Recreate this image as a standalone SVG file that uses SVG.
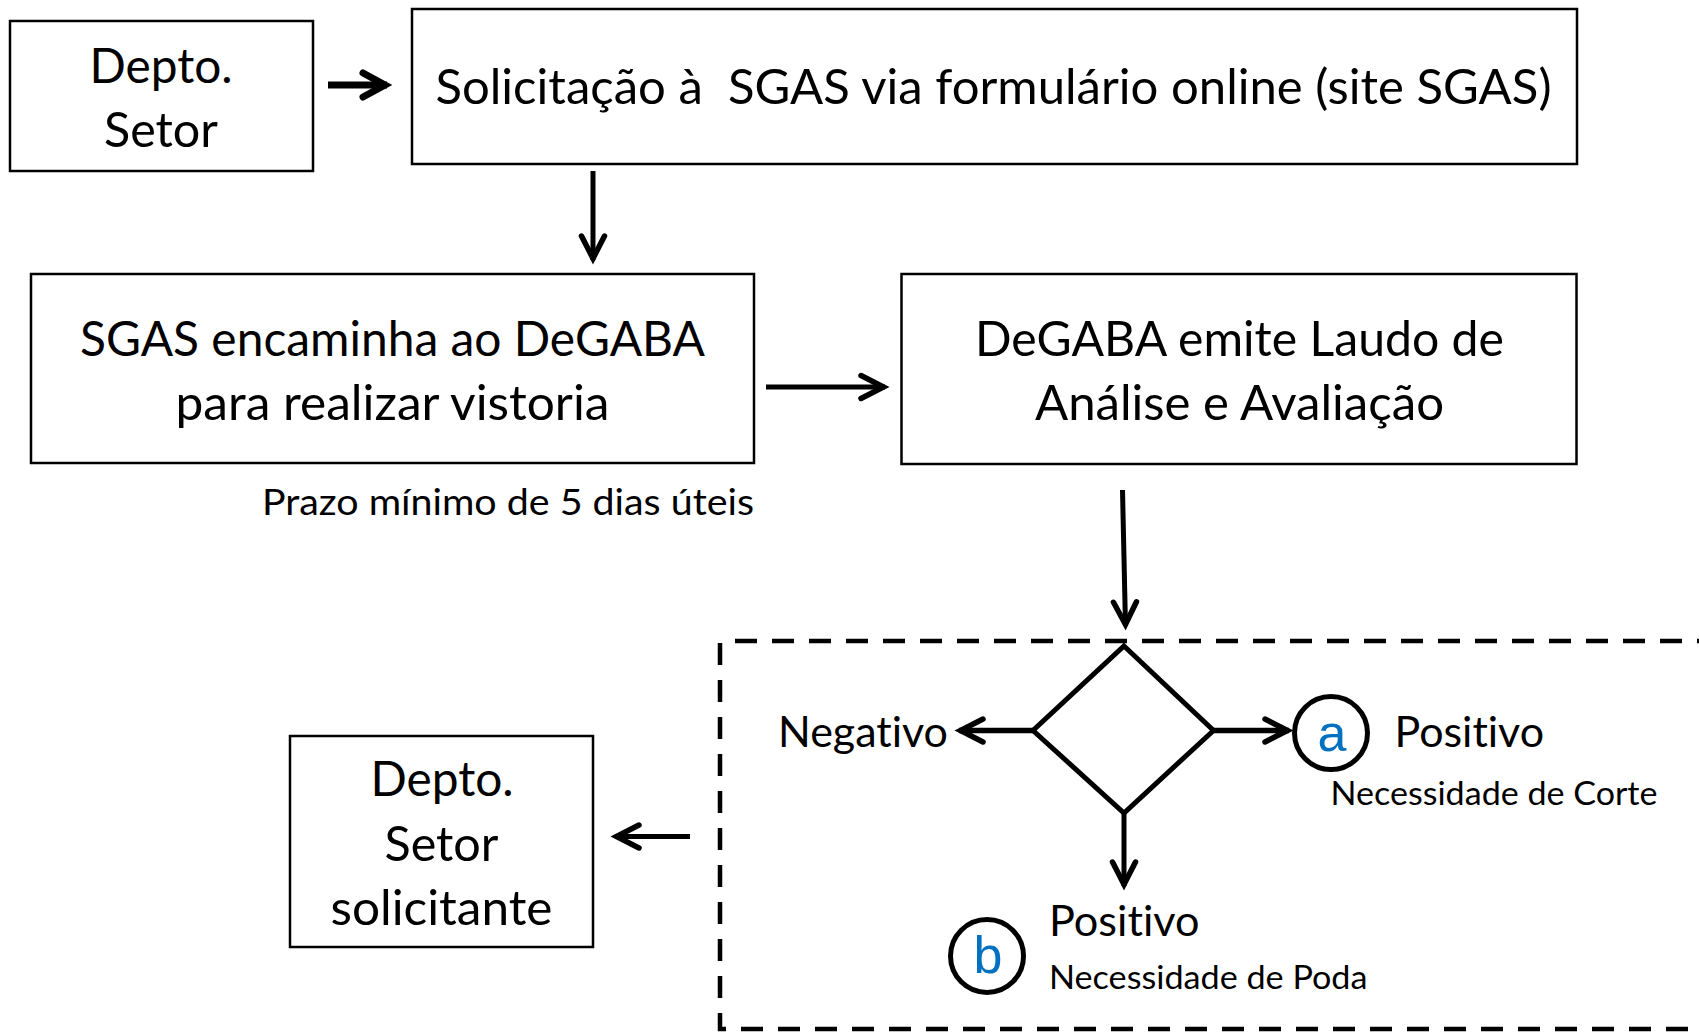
<svg xmlns="http://www.w3.org/2000/svg" width="1699" height="1033" viewBox="0 0 1699 1033">
<style>
  .box { fill: #fff; stroke: #000; stroke-width: 2.5; }
  .t { font-family: Lato, "Open Sans", "Liberation Sans", sans-serif; fill: #000; font-variant-ligatures: none; font-feature-settings: "liga" 0, "clig" 0; }
  .big { font-size: 48px; }
  .mid { font-size: 43px; }
  .sm { font-size: 37px; }
  .xs { font-size: 33px; }
  .c { text-anchor: middle; }
  .lbl { font-family: "Liberation Sans", Arial, sans-serif; font-size: 52px; fill: #0070C0; text-anchor: middle; }
  .ln { fill: none; stroke: #000; }
  .dash { fill: none; stroke: #000; stroke-width: 4.5; stroke-dasharray: 22 15; }
  .circ { fill: #fff; stroke: #000; stroke-width: 5; }
</style>
<defs>
  <marker id="ah" markerUnits="userSpaceOnUse" viewBox="-32 -20 40 40" markerWidth="40" markerHeight="40" refX="0" refY="0" orient="auto">
    <path d="M -24 -11.5 L -1.5 0 L -24 11.5" fill="none" stroke="#000" stroke-width="5.5" stroke-linecap="round" stroke-linejoin="miter"/>
  </marker>
  <marker id="ahb" markerUnits="userSpaceOnUse" viewBox="-32 -20 40 40" markerWidth="40" markerHeight="40" refX="0" refY="0" orient="auto">
    <path d="M -24 -12 L -2 0 L -24 12" fill="none" stroke="#000" stroke-width="7" stroke-linecap="round" stroke-linejoin="miter"/>
  </marker>
</defs>

<g id="node-depto-setor">
  <rect class="box" x="10" y="21" width="303" height="150"/>
  <text class="t big c" x="161" y="83" textLength="143" lengthAdjust="spacingAndGlyphs">Depto.</text>
  <text class="t big c" x="161" y="147" textLength="114" lengthAdjust="spacingAndGlyphs">Setor</text>
</g>

<g id="node-solicitacao">
  <rect class="box" x="412" y="9" width="1165" height="155"/>
  <text class="t big" x="435.5" y="104" textLength="1116" lengthAdjust="spacingAndGlyphs" xml:space="preserve">Solicitação à  SGAS via formulário online (site SGAS)</text>
</g>

<g id="node-sgas-encaminha">
  <rect class="box" x="31" y="274" width="723" height="189"/>
  <text class="t big c" x="392.5" y="356" textLength="625" lengthAdjust="spacingAndGlyphs">SGAS encaminha ao DeGABA</text>
  <text class="t big c" x="392.5" y="420" textLength="434" lengthAdjust="spacingAndGlyphs">para realizar vistoria</text>
</g>

<g id="note-prazo">
  <text class="t sm" x="262" y="515" textLength="492" lengthAdjust="spacingAndGlyphs">Prazo mínimo de 5 dias úteis</text>
</g>

<g id="node-degaba-laudo">
  <rect class="box" x="901.5" y="274" width="675" height="190"/>
  <text class="t big c" x="1239.5" y="356" textLength="529" lengthAdjust="spacingAndGlyphs">DeGABA emite Laudo de</text>
  <text class="t big c" x="1239.5" y="420" textLength="409" lengthAdjust="spacingAndGlyphs">Análise e Avaliação</text>
</g>

<g id="group-decisao">
  <path class="dash" d="M 735 641 H 1710"/>
  <path class="dash" d="M 720 643 V 1029 H 1710"/>
</g>

<g id="node-decisao">
  <polygon points="1124,646 1213.5,730.5 1124,813 1033,730.5" fill="#fff" stroke="#000" stroke-width="5" stroke-linejoin="miter"/>
</g>

<g id="label-negativo">
  <text class="t mid" x="778" y="747" textLength="170" lengthAdjust="spacingAndGlyphs">Negativo</text>
</g>

<g id="node-a">
  <circle class="circ" cx="1331" cy="733" r="36.5"/>
  <text class="lbl" x="1332" y="751">a</text>
  <text class="t mid" x="1394.5" y="747" textLength="149.5" lengthAdjust="spacingAndGlyphs">Positivo</text>
  <text class="t xs" x="1330.5" y="805" textLength="327" lengthAdjust="spacingAndGlyphs">Necessidade de Corte</text>
</g>

<g id="node-b">
  <circle class="circ" cx="987" cy="956" r="36.5"/>
  <text class="lbl" x="988" y="973">b</text>
  <text class="t mid" x="1049" y="936" textLength="150.5" lengthAdjust="spacingAndGlyphs">Positivo</text>
  <text class="t xs" x="1049" y="989" textLength="318.5" lengthAdjust="spacingAndGlyphs">Necessidade de Poda</text>
</g>

<g id="node-depto-solicitante">
  <rect class="box" x="290" y="736" width="303" height="211"/>
  <text class="t big c" x="442" y="796" textLength="143" lengthAdjust="spacingAndGlyphs">Depto.</text>
  <text class="t big c" x="441.5" y="861" textLength="114" lengthAdjust="spacingAndGlyphs">Setor</text>
  <text class="t big c" x="441.5" y="925" textLength="222" lengthAdjust="spacingAndGlyphs">solicitante</text>
</g>

<g id="connectors">
  <line class="ln" x1="328" y1="85" x2="387" y2="85" stroke-width="7" marker-end="url(#ahb)"/>
  <line class="ln" x1="593" y1="171" x2="593" y2="260" stroke-width="5" marker-end="url(#ah)"/>
  <line class="ln" x1="766" y1="387" x2="885" y2="387" stroke-width="5" marker-end="url(#ah)"/>
  <line class="ln" x1="1122.5" y1="490" x2="1125.5" y2="626" stroke-width="5" marker-end="url(#ah)"/>
  <line class="ln" x1="1033" y1="730.5" x2="959" y2="730.5" stroke-width="5.5" marker-end="url(#ah)"/>
  <line class="ln" x1="1213.5" y1="730.5" x2="1289" y2="730.5" stroke-width="5.5" marker-end="url(#ah)"/>
  <line class="ln" x1="1124" y1="813" x2="1124" y2="886" stroke-width="5" marker-end="url(#ah)"/>
  <line class="ln" x1="690" y1="836.5" x2="615" y2="836.5" stroke-width="5" marker-end="url(#ah)"/>
</g>
</svg>
